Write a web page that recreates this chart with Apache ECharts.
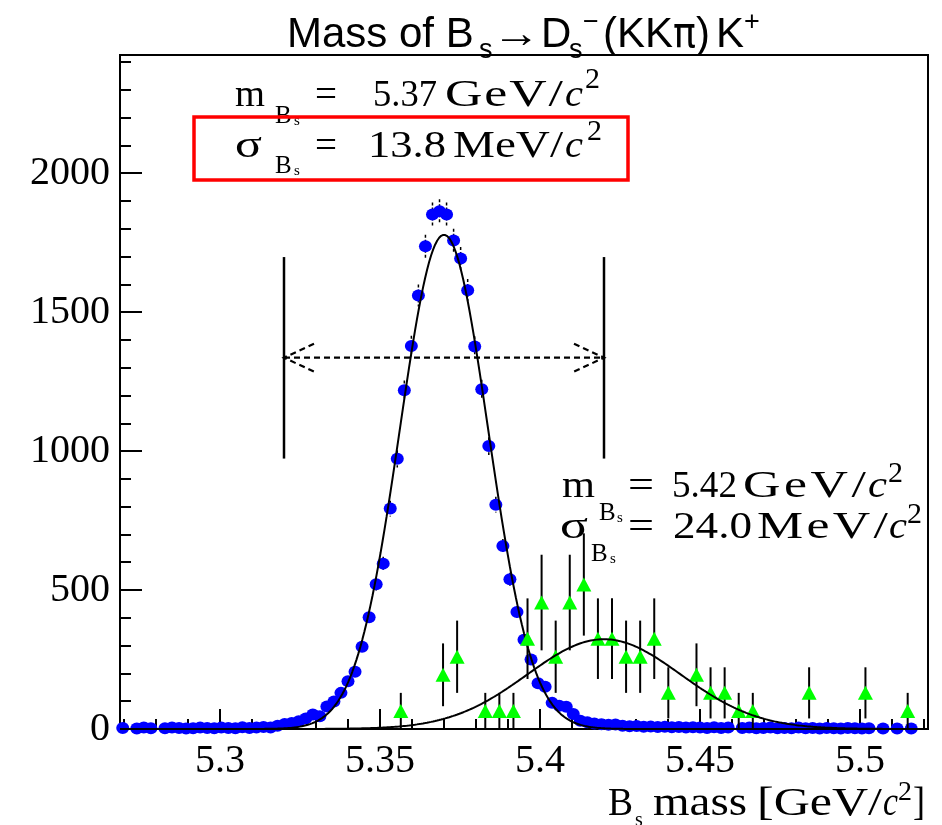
<!DOCTYPE html>
<html>
<head>
<meta charset="utf-8">
<script src="https://cdn.jsdelivr.net/npm/echarts@6/dist/echarts.min.js"></script>
<style>
  html, body { margin: 0; padding: 0; background: #fff; }
  #chart { width: 942px; height: 825px; }
</style>
</head>
<body>
<div id="chart"></div>
<script>
// ---- Data histogram: Bs -> Ds(KK pi) K candidates (blue points) ----
const binStart = 5.2696;   // centre of the first bin [GeV/c^2]
const binWidth = 0.0022;   // bin width [GeV/c^2]
const dataCounts = [
  4, null, 2, 5, 3, null, 3, 5, 4, 2,
  3, 5, 4, 3, 5, 4, 3, 6, 4, 5,
  7, 5, 12, 18, 22, 28, 38, 52, 46, 81,
  99, 130, 172, 206, 296, 402, 521, 595, 793, 972,
  1219, 1378, 1560, 1737, 1851, 1863, 1851, 1758, 1693, 1579,
  1376, 1222, 1018, 807, 658, 539, 421, 321, 250, 165,
  152, 94, 84, 80, 54, 30, 24, 20, 17, 15,
  16, 12, 10, 11, 8, 9, 7, 8, 6, 7,
  5, 6, 5, 4, 6, 4, 5, null, 4, 5,
  3, 4, 5, 3, 4, 3, 5, 3, 4, 2,
  4, 3, 2, 4, 3, 2, 3, null, 2, null,
  2, null, 2
];

// ---- Misidentified background sample (green triangles) ----
const bkgX = [5.3565, 5.3697, 5.3741, 5.3829, 5.3873, 5.3917, 5.3961, 5.4005, 5.4049, 5.4093,
              5.4137, 5.4181, 5.4225, 5.4269, 5.4313, 5.4357, 5.4401, 5.4489, 5.4533, 5.4577,
              5.4621, 5.4665, 5.4841, 5.5017, 5.5149];
const bkgValues = [65, 195, 260, 65, 65, 65, 325, 455, 260, 455,
                   520, 325, 325, 260, 260, 325, 130, 195, 130, 130,
                   65, 65, 130, 130, 65];
const bkgErrors = [65, 113, 130, 65, 65, 65, 145, 172, 130, 172,
                   184, 145, 145, 130, 130, 145, 92, 113, 92, 92,
                   65, 65, 92, 92, 65];

// ---- Gaussian fit results ----
const signalFit = { amp: 1778, mean: 5.37, sigma: 0.0138 };
const bkgFit = { amp: 323, mean: 5.42, sigma: 0.0240 };

// ---- Mass window and its width marker ----
const windowEdges = [5.32, 5.42];
const windowSpan = [973, 1698];
const arrowLevel = 1336;

// ---- Axes ----
const xRange = [5.26875, 5.52125];
const yRange = [0, 2425];
const xMajorTicks = [5.3, 5.35, 5.4, 5.45, 5.5];
const xMinorTicks = [5.27, 5.28, 5.29, 5.31, 5.32, 5.33, 5.34, 5.36, 5.37, 5.38, 5.39,
                     5.41, 5.42, 5.43, 5.44, 5.46, 5.47, 5.48, 5.49, 5.51, 5.52];
const yMajorTicks = [0, 500, 1000, 1500, 2000];
const yMinorTicks = [100, 200, 300, 400, 600, 700, 800, 900, 1100, 1200, 1300, 1400,
                     1600, 1700, 1800, 1900, 2100, 2200, 2300, 2400];

// ---------------------------------------------------------------------------
const dataPoints = [];
dataCounts.forEach((c, i) => {
  if (c !== null) dataPoints.push([+(binStart + i * binWidth).toFixed(5), c, Math.sqrt(c)]);
});
const bkgPoints = bkgX.map((x, i) => [x, bkgValues[i], bkgErrors[i]]);

function gauss(p, x) {
  const d = (x - p.mean) / p.sigma;
  return p.amp * Math.exp(-0.5 * d * d);
}
function sampleFit(p) {
  const pts = [];
  const n = 400;
  for (let k = 0; k <= n; k++) {
    const x = xRange[0] + (xRange[1] - xRange[0]) * k / n;
    pts.push([x, gauss(p, x)]);
  }
  return pts;
}

function errorBarSeries(data, width, z, dash) {
  return {
    type: 'custom', data: data, z: z, silent: true,
    renderItem: function (params, api) {
      const x = api.value(0), y = api.value(1), e = api.value(2);
      const a = api.coord([x, y + e]);
      const b = api.coord([x, Math.max(y - e, 0)]);
      return { type: 'line', shape: { x1: a[0], y1: a[1], x2: b[0], y2: b[1] },
               style: { stroke: '#000', lineWidth: width, lineDash: dash || null } };
    }
  };
}

// ---- Text runs with sub/superscripts, laid out on baselines ----
const mctx = document.createElement('canvas').getContext('2d');
function fontOf(p) {
  return (p.italic ? 'italic ' : '') + p.size + 'px "' + p.family + '"';
}
function baselineShift(font) {
  mctx.font = font;
  mctx.textBaseline = 'alphabetic';
  const A = mctx.measureText('Hg').fontBoundingBoxAscent;
  mctx.textBaseline = 'middle';
  const a = mctx.measureText('Hg').fontBoundingBoxAscent;
  mctx.textBaseline = 'alphabetic';
  return A - a;
}
function glyph(t, font, x, base, s, color) {
  return {
    type: 'text', x: x, y: base - baselineShift(font), scaleX: s, z: 100, silent: true,
    style: { text: t, font: font, fill: color || '#000', align: 'left', verticalAlign: 'middle' }
  };
}
// A run is a list of pieces; a piece with "w" is fitted to that width,
// by a horizontal scale and, past maxScale, by letter spacing.
function textRun(defaults, parts) {
  const out = [];
  let cursor = 0;
  parts.forEach(part => {
    const p = Object.assign({ maxScale: 1.4 }, defaults, part);
    const font = fontOf(p);
    mctx.font = font;
    const x = (p.x !== undefined) ? p.x : cursor;
    const chars = Array.from(p.t);
    const widths = chars.map(ch => mctx.measureText(ch).width);
    const w0 = mctx.measureText(p.t).width;
    if (!p.w) {
      out.push(glyph(p.t, font, x, p.base, 1, p.color));
      cursor = x + w0 + (p.gap || 0);
      return;
    }
    const s = Math.min(p.maxScale, p.w / w0);
    if (chars.length === 1 || s * w0 >= p.w - 0.5) {
      out.push(glyph(p.t, font, x, p.base, p.w / w0, p.color));
    } else {
      const spacing = (p.w - s * w0) / (chars.length - 1);
      let cx = x;
      chars.forEach((ch, k) => {
        out.push(glyph(ch, font, cx, p.base, s, p.color));
        cx += widths[k] * s + spacing;
      });
    }
    cursor = x + p.w + (p.gap || 0);
  });
  return out;
}

const serif = 'Liberation Serif';
const sans = 'Liberation Sans';
const graphics = [].concat(
  // title
  textRun({ family: sans, size: 42, base: 47 }, [
    { t: 'Mass of B', x: 287 },
    { t: 's', x: 479, size: 27, base: 58 },
    { t: '\u2192', x: 492, w: 48 },
    { t: 'D', x: 541 },
    { t: 's', x: 569, size: 27, base: 58 },
    { t: '\u2212', x: 583, size: 27, base: 30 },
    { t: '(KK', x: 603 },
    { t: '\u03c0', x: 673, family: 'DejaVu Sans', w: 23 },
    { t: ')', x: 696 },
    { t: 'K', x: 716 },
    { t: '+', x: 744, size: 27, base: 30 }
  ]),
  // signal mass
  textRun({ family: serif, size: 37, base: 106 }, [
    { t: 'm', x: 235, w: 30 },
    { t: 'B', x: 275, base: 123, size: 25 },
    { t: 's', x: 294, base: 125, size: 15 },
    { t: '=', x: 315, w: 22 },
    { t: '5.37', x: 373, w: 64 },
    { t: 'GeV/', x: 445, w: 118 },
    { t: 'c', x: 565, italic: true, w: 18 },
    { t: '2', x: 585, base: 88, size: 30 }
  ]),
  // signal width
  textRun({ family: serif, size: 37, base: 157 }, [
    { t: '\u03c3', x: 235, w: 27 },
    { t: 'B', x: 275, base: 173, size: 25 },
    { t: 's', x: 294, base: 175, size: 15 },
    { t: '=', x: 315, w: 22 },
    { t: '13.8', x: 368, w: 78 },
    { t: 'MeV/', x: 453, w: 110 },
    { t: 'c', x: 565, italic: true, w: 18 },
    { t: '2', x: 587, base: 140, size: 30 }
  ]),
  // background mass
  textRun({ family: serif, size: 37, base: 497 }, [
    { t: 'm', x: 562, w: 33 },
    { t: 'B', x: 599, base: 520, size: 25 },
    { t: 's', x: 617, base: 522, size: 15 },
    { t: '=', x: 628, w: 26 },
    { t: '5.42', x: 672, w: 65 },
    { t: 'GeV/', x: 743, w: 123 },
    { t: 'c', x: 868, italic: true, w: 19 },
    { t: '2', x: 888, base: 482, size: 30 }
  ]),
  // background width
  textRun({ family: serif, size: 37, base: 538 }, [
    { t: '\u03c3', x: 560, w: 28 },
    { t: 'B', x: 591, base: 561, size: 25 },
    { t: 's', x: 610, base: 563, size: 15 },
    { t: '=', x: 628, w: 26 },
    { t: '24.0', x: 673, w: 79 },
    { t: 'MeV/', x: 757, w: 131 },
    { t: 'c', x: 889, italic: true, w: 18 },
    { t: '2', x: 907, base: 523, size: 30 }
  ]),
  // x axis title
  textRun({ family: serif, size: 40, base: 815 }, [
    { t: 'B', x: 608, w: 25 },
    { t: 's', x: 635, base: 826, size: 20 },
    { t: 'mass', x: 653, w: 94 },
    { t: '[GeV/', x: 757, w: 125 },
    { t: 'c', x: 883, italic: true, w: 15 },
    { t: '2', x: 898, base: 800, size: 28 },
    { t: ']', x: 913, w: 12 }
  ]),
  [{
    type: 'rect', z: 100, silent: true,
    shape: { x: 194, y: 117, width: 434, height: 63 },
    style: { fill: 'none', stroke: '#ff0000', lineWidth: 3.5 }
  }]
);

const chart = echarts.init(document.getElementById('chart'), null, { renderer: 'canvas' });
const axisText = { fontFamily: serif, fontSize: 40, color: '#000' };
chart.setOption({
  animation: false,
  backgroundColor: '#fff',
  grid: { left: 120, right: 14, top: 55, bottom: 96, show: true, borderColor: '#000', borderWidth: 2, backgroundColor: 'transparent' },
  xAxis: [
    {
      type: 'value', min: xRange[0], max: xRange[1], position: 'bottom',
      axisLine: { onZero: false, lineStyle: { color: '#000', width: 2 } },
      axisTick: { inside: true, length: 20, customValues: xMajorTicks, lineStyle: { color: '#000', width: 2 } },
      axisLabel: Object.assign({ customValues: xMajorTicks, margin: 12, formatter: v => String(+(+v).toFixed(2)) }, axisText),
      splitLine: { show: false }
    },
    {
      type: 'value', min: xRange[0], max: xRange[1], position: 'bottom',
      axisLine: { show: false },
      axisTick: { inside: true, length: 10, customValues: xMinorTicks, lineStyle: { color: '#000', width: 2 } },
      axisLabel: { show: false },
      splitLine: { show: false }
    }
  ],
  yAxis: [
    {
      type: 'value', min: yRange[0], max: yRange[1], position: 'left',
      axisLine: { show: true, onZero: false, lineStyle: { color: '#000', width: 2 } },
      axisTick: { show: true, inside: true, length: 22, customValues: yMajorTicks, lineStyle: { color: '#000', width: 2 } },
      axisLabel: Object.assign({ customValues: yMajorTicks, margin: 10, formatter: v => String(Math.round(v)) }, axisText),
      splitLine: { show: false }
    },
    {
      type: 'value', min: yRange[0], max: yRange[1], position: 'left',
      axisLine: { show: false },
      axisTick: { show: true, inside: true, length: 11, customValues: yMinorTicks, lineStyle: { color: '#000', width: 2 } },
      axisLabel: { show: false },
      splitLine: { show: false }
    }
  ],
  graphic: graphics,
  series: [
    errorBarSeries(dataPoints, 1.5, 2, [3, 2]),
    {
      type: 'scatter', data: dataPoints, z: 3, silent: true,
      symbol: 'circle', symbolSize: [13, 12],
      itemStyle: { color: '#0000ff', opacity: 1 }
    },
    {
      type: 'line', data: sampleFit(signalFit), z: 4, silent: true,
      showSymbol: false, smooth: false,
      lineStyle: { color: '#000', width: 2 }
    },
    errorBarSeries(bkgPoints, 2, 5),
    {
      type: 'scatter', data: bkgPoints, z: 6, silent: true,
      symbol: 'triangle', symbolSize: [15, 14],
      itemStyle: { color: '#00ff00', opacity: 1 }
    },
    {
      type: 'line', data: sampleFit(bkgFit), z: 7, silent: true,
      showSymbol: false, smooth: false,
      lineStyle: { color: '#000', width: 2 }
    },
    {
      type: 'custom', z: 8, silent: true,
      data: windowEdges.map(x => [x, windowSpan[0], windowSpan[1]]),
      renderItem: function (params, api) {
        const a = api.coord([api.value(0), api.value(1)]);
        const b = api.coord([api.value(0), api.value(2)]);
        return { type: 'line', shape: { x1: a[0], y1: a[1], x2: b[0], y2: b[1] },
                 style: { stroke: '#000', lineWidth: 2.5 } };
      }
    },
    {
      type: 'custom', z: 8, silent: true,
      data: [[windowEdges[0], windowEdges[1], arrowLevel]],
      renderItem: function (params, api) {
        const a = api.coord([api.value(0), api.value(2)]);
        const b = api.coord([api.value(1), api.value(2)]);
        const st = { stroke: '#000', lineWidth: 2.2, lineDash: [6, 4], fill: 'none' };
        const hl = 30, hw = 14;
        return {
          type: 'group',
          children: [
            { type: 'line', shape: { x1: a[0], y1: a[1], x2: b[0], y2: b[1] }, style: st },
            { type: 'polyline', shape: { points: [[a[0] + hl, a[1] - hw], [a[0], a[1]], [a[0] + hl, a[1] + hw]] }, style: st },
            { type: 'polyline', shape: { points: [[b[0] - hl, b[1] - hw], [b[0], b[1]], [b[0] - hl, b[1] + hw]] }, style: st }
          ]
        };
      }
    }
  ]
});
</script>
</body>
</html>
